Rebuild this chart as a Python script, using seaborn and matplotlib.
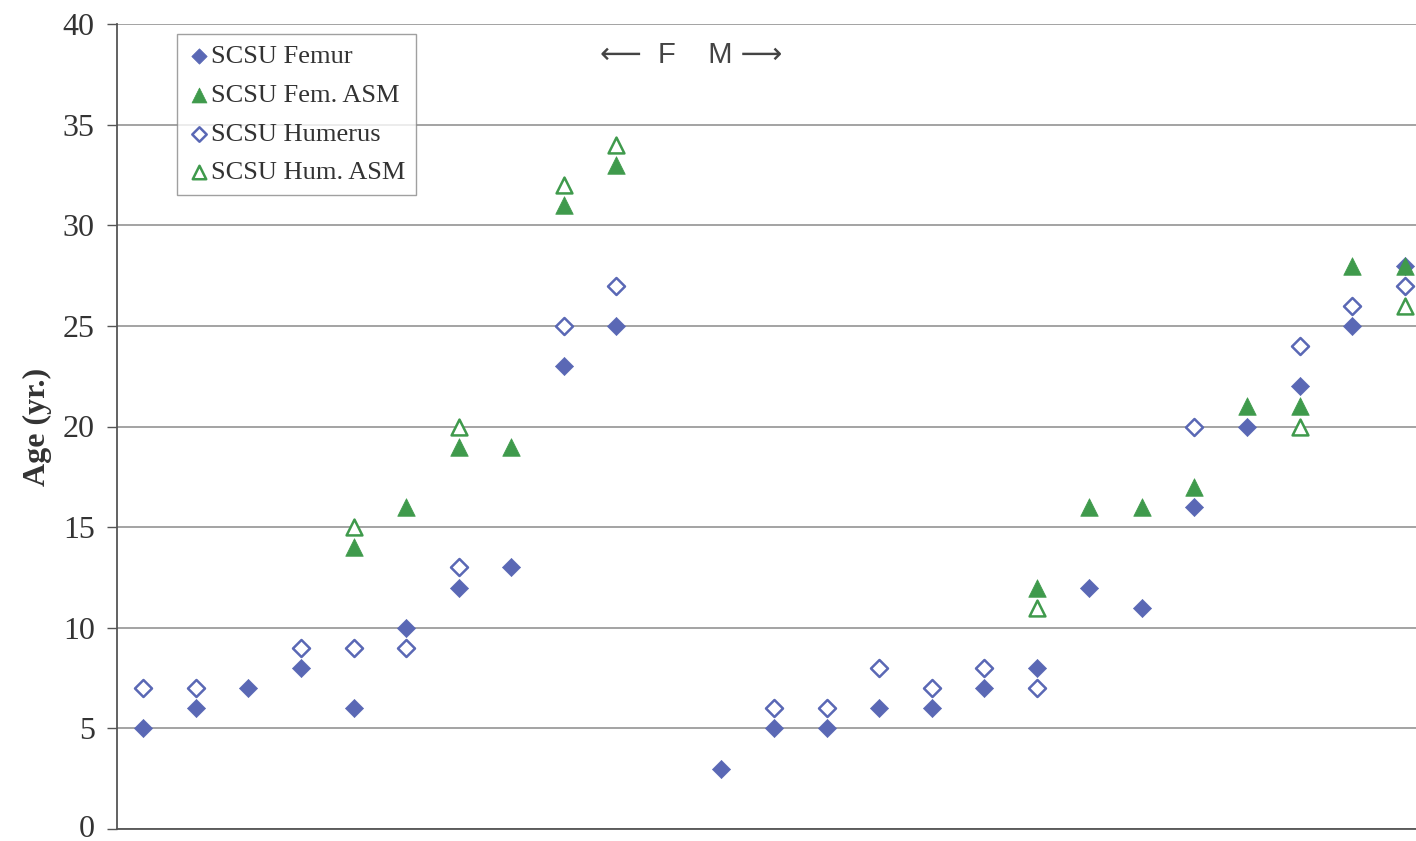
import numpy as np
import pandas as pd
import matplotlib
matplotlib.use("Agg")
import matplotlib.pyplot as plt
import matplotlib.transforms as mtransforms
import seaborn as sns

# positions 0..24 (10 = empty divider between F and M)
fem_x = [0, 1, 2, 3, 4, 5, 6, 7, 8, 9, 11, 12, 13, 14, 15, 16, 17, 18, 19, 20, 21, 22, 23, 24]
fem_y = [5, 6, 7, 8, 6, 10, 12, 13, 23, 25, 3, 5, 5, 6, 6, 7, 8, 12, 11, 16, 20, 22, 25, 28]

femasm_x = [4, 5, 6, 7, 8, 9, 17, 18, 19, 20, 21, 22, 23, 24]
femasm_y = [14, 16, 19, 19, 31, 33, 12, 16, 16, 17, 21, 21, 28, 28]

hum_x = [0, 1, 3, 4, 5, 6, 8, 9, 12, 13, 14, 15, 16, 17, 20, 22, 23, 24]
hum_y = [7, 7, 9, 9, 9, 13, 25, 27, 6, 6, 8, 7, 8, 7, 20, 24, 26, 27]

humasm_x = [4, 6, 8, 9, 17, 22, 24]
humasm_y = [15, 20, 32, 34, 11, 20, 26]

labels = ["SCSU Femur", "SCSU Fem. ASM", "SCSU Humerus", "SCSU Hum. ASM"]
y_ticks = [0, 5, 10, 15, 20, 25, 30, 35, 40]

sns.set_style("white")
plt.rcParams["font.family"] = ["Liberation Serif", "DejaVu Serif"]

BLUE = "#5a68b5"
GREEN = "#3f9a4c"

fig = plt.figure(figsize=(14.16, 8.41), dpi=100)
ax = fig.add_axes([117 / 1416, 1 - 829 / 841, 1314 / 1416, 805 / 841])

for yv in y_ticks:
    ax.axhline(yv, color="#8a8a8a", lw=1.1, zorder=0)

sns.scatterplot(x=fem_x, y=fem_y, marker="D", s=85, color=BLUE, edgecolor=BLUE,
                linewidth=0.5, ax=ax, label=labels[0], zorder=3)
sns.scatterplot(x=hum_x, y=hum_y, marker="D", s=75, facecolor="white", edgecolor=BLUE,
                linewidth=1.8, ax=ax, label=labels[2], zorder=3)
sns.scatterplot(x=femasm_x, y=femasm_y, marker="^", s=160, color=GREEN, edgecolor=GREEN,
                linewidth=0.5, ax=ax, label=labels[1], zorder=5)
sns.scatterplot(x=humasm_x, y=humasm_y, marker="^", s=130, facecolor="white", edgecolor=GREEN,
                linewidth=1.8, ax=ax, label=labels[3], zorder=5)

ax.set_xlim(-0.5, 24.5)
ax.set_ylim(0, 40)
ax.set_yticks(y_ticks)
ax.set_xticks([])
ax.tick_params(axis="y", which="major", direction="out", length=7, width=1,
               color="#555555", labelsize=23, labelcolor="#333333", pad=9, left=True)
for s in ["top", "right"]:
    ax.spines[s].set_visible(False)
for s in ["left", "bottom"]:
    ax.spines[s].set_color("#555555")
    ax.spines[s].set_linewidth(1.3)

# nudge the bottom "0" label up a little so it stays inside the figure
lab0 = ax.get_yticklabels()[0]
lab0.set_transform(lab0.get_transform() + mtransforms.ScaledTranslation(0, 3 / 100, fig.dpi_scale_trans))

ax.set_ylabel("Age (yr.)", fontsize=23, fontweight="bold", color="#333333", labelpad=8)

handles, lbls = ax.get_legend_handles_labels()
order = [lbls.index(l) for l in labels]
leg = ax.legend([handles[i] for i in order], [lbls[i] for i in order],
                loc="upper left", bbox_to_anchor=(60 / 1314, 0.9876), borderaxespad=0,
                frameon=True, fancybox=False, fontsize=19, handletextpad=0.0,
                labelspacing=0.58, borderpad=0.4, handlelength=0.9, markerscale=0.85)
leg.get_frame().set_edgecolor("#888888")
leg.get_frame().set_linewidth(1.0)
for t in leg.get_texts():
    t.set_color("#333333")

ax.text(0.437, 0.962, "⟵  F    M ⟶", transform=ax.transAxes, ha="center", va="center",
        fontsize=21, color="#444444", family=["Liberation Sans", "DejaVu Sans"])

fig.savefig("out.png", dpi=100, facecolor="white")
